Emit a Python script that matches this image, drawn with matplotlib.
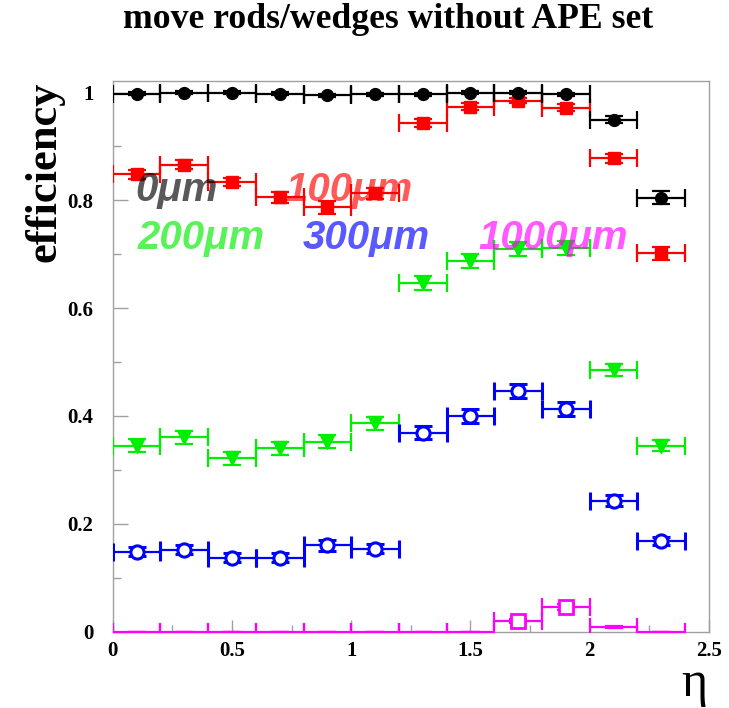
import numpy as np
import matplotlib
matplotlib.use("Agg")
import matplotlib.pyplot as plt
from matplotlib.ticker import MultipleLocator, FuncFormatter

# ---- data ----
eta = [0.1, 0.3, 0.5, 0.7, 0.9, 1.1, 1.3, 1.5, 1.7, 1.9, 2.1, 2.3]
eta_halfwidth = 0.1

eff_0um = [0.998, 1.000, 1.000, 0.998, 0.995, 0.997, 0.997, 1.000, 1.000, 0.997, 0.950, 0.805]
err_0um = [0.003, 0.002, 0.002, 0.003, 0.003, 0.003, 0.003, 0.002, 0.002, 0.003, 0.006, 0.012]

eff_100um = [0.848, 0.866, 0.834, 0.806, 0.787, 0.813, 0.944, 0.974, 0.985, 0.972, 0.878, 0.702]
err_100um = [0.008, 0.008, 0.008, 0.010, 0.012, 0.010, 0.007, 0.006, 0.005, 0.006, 0.008, 0.012]

eff_200um = [0.345, 0.360, 0.321, 0.340, 0.352, 0.386, 0.647, 0.688, 0.709, 0.711, 0.486, 0.345]
err_200um = [0.012, 0.012, 0.012, 0.012, 0.012, 0.012, 0.013, 0.013, 0.013, 0.013, 0.011, 0.010]

eff_300um = [0.148, 0.152, 0.137, 0.137, 0.160, 0.154, 0.369, 0.399, 0.447, 0.412, 0.243, 0.168]
err_300um = [0.008, 0.008, 0.008, 0.008, 0.010, 0.009, 0.012, 0.013, 0.013, 0.013, 0.010, 0.008]

eff_1000um = [0.0, 0.0, 0.0, 0.0, 0.0, 0.0, 0.0, 0.0, 0.019, 0.045, 0.008, 0.0]
err_1000um = [0.0, 0.0, 0.0, 0.0, 0.0, 0.0, 0.0, 0.0, 0.004, 0.006, 0.002, 0.0]

labels = ["0\u03bcm", "100\u03bcm", "200\u03bcm", "300\u03bcm", "1000\u03bcm"]
title = "move rods/wedges without APE set"
xlabel = "\u03b7"
ylabel = "efficiency"

# ---- figure ----
W, H = 729, 708
fig = plt.figure(figsize=(W / 100, H / 100), dpi=100)
x0px, x1px, y0px, y1px = 112.7, 709.0, 631.5, 80.7
ax = fig.add_axes([x0px / W, 1 - y0px / H, (x1px - x0px) / W, (y0px - y1px) / H])
ax.set_xlim(0, 2.5)
ax.set_ylim(0, 1.022)

frame_col = "#a0a0a0"
for s in ax.spines.values():
    s.set_color(frame_col)
    s.set_linewidth(1.0)

serif = ["Liberation Serif", "DejaVu Serif"]

common = dict(capsize=6.5, capthick=1.6, elinewidth=1.6, linestyle="none")

ex = [eta_halfwidth] * len(eta)
ax.errorbar(eta, eff_0um, xerr=ex, yerr=err_0um, color="black", marker="o",
            markersize=8.5, **common, zorder=5)
ax.errorbar(eta, eff_100um, xerr=ex, yerr=err_100um, color="red", marker="s",
            markersize=8.5, **common, zorder=4)
ax.errorbar(eta, eff_200um, xerr=ex, yerr=err_200um, color="#00ee00", marker="v",
            markersize=9.5, **common, zorder=4)
ax.errorbar(eta, eff_300um, xerr=ex, yerr=err_300um, color="blue", marker="o",
            markersize=9.5, markerfacecolor="white", markeredgewidth=2.2, **common, zorder=4)
cont = ax.errorbar(eta, eff_1000um, xerr=ex, yerr=err_1000um, color="#ff00ff", fmt="none",
                   capsize=6.5, capthick=1.6, elinewidth=1.6, zorder=4)
for coll in cont[2]:
    coll.set_clip_on(False)
e1000 = np.array(eff_1000um)
mask = e1000 > 0.01
ax.plot(np.array(eta)[mask], e1000[mask], linestyle="none", marker="s", markersize=9.5,
        markerfacecolor="white", markeredgecolor="#ff00ff", markeredgewidth=2.0, zorder=5)

# ticks
def fmt(v, p):
    if abs(v) < 1e-9:
        return "0"
    if abs(v - round(v)) < 1e-9:
        return str(int(round(v)))
    return f"{v:.1f}"

ax.xaxis.set_major_locator(MultipleLocator(0.5))
ax.xaxis.set_minor_locator(MultipleLocator(0.25))
ax.yaxis.set_major_locator(MultipleLocator(0.2))
ax.yaxis.set_minor_locator(MultipleLocator(0.1))
ax.xaxis.set_major_formatter(FuncFormatter(fmt))
ax.yaxis.set_major_formatter(FuncFormatter(fmt))
ax.tick_params(axis="both", which="both", direction="in", color=frame_col,
               top=False, right=False)
ax.tick_params(axis="x", which="major", length=9, width=1, pad=7)
ax.tick_params(axis="x", which="minor", length=5, width=1)
ax.tick_params(axis="y", which="major", length=11, width=1, pad=14)
ax.tick_params(axis="y", which="minor", length=6, width=1)
for lab in ax.get_xticklabels() + ax.get_yticklabels():
    lab.set_fontfamily(serif)
    lab.set_fontweight("bold")
    lab.set_fontsize(15)

# titles
fig.text(388 / W, 1 - 20 / H, title, ha="center", va="center", fontsize=25.7,
         fontweight="bold", family=serif)
fig.text(44 / W, 1 - 172 / H, ylabel, ha="center", va="center", rotation=90,
         fontsize=32, fontweight="bold", family=serif)
fig.text(694 / W, 1 - 684 / H, xlabel, ha="center", va="center", fontsize=36,
         family=serif)

# legend-like labels
sans = ["Liberation Sans", "DejaVu Sans"]
leg = [
    (labels[0], 0.095, 0.819, "black"),
    (labels[1], 0.722, 0.819, "red"),
    (labels[2], 0.103, 0.731, "#00ee00"),
    (labels[3], 0.798, 0.731, "blue"),
    (labels[4], 1.532, 0.731, "#ff00ff"),
]
for txt, lx, ly, c in leg:
    ax.text(lx, ly, txt, color=c, alpha=0.65, fontsize=29, fontweight="bold",
            fontstyle="italic", family=sans, ha="left", va="center", zorder=6)

fig.savefig("out.png", dpi=100, facecolor="white")
